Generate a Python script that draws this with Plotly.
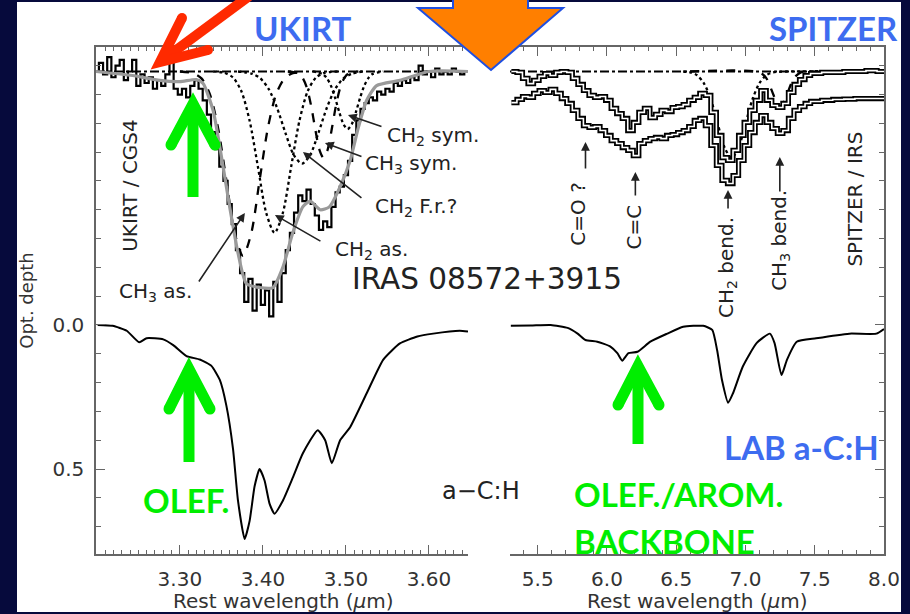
import plotly.graph_objects as go

W, H = 910, 614
OFFSET = -0.88          # vertical offset of the observed spectra on the optical-depth axis

# ---------------- laboratory a-C:H (lower curves) ----------------
lab_wl_l = [3.201, 3.219, 3.236, 3.251, 3.260, 3.280, 3.292, 3.308, 3.324, 3.338, 3.348,
            3.356, 3.364, 3.370, 3.378, 3.384, 3.390, 3.396, 3.402, 3.408, 3.414, 3.424,
            3.436, 3.448, 3.466, 3.475, 3.483, 3.493, 3.505, 3.525, 3.545, 3.565, 3.586,
            3.605, 3.637, 3.647]
lab_tau_l = [0.0, 0.003, 0.02, 0.06, 0.046, 0.05, 0.07, 0.108, 0.12, 0.142, 0.19,
             0.28, 0.43, 0.61, 0.743, 0.68, 0.56, 0.50, 0.54, 0.62, 0.655, 0.61,
             0.53, 0.446, 0.365, 0.40, 0.48, 0.40, 0.355, 0.237, 0.12, 0.064, 0.04,
             0.03, 0.02, 0.023]

lab_wl_r = [5.306, 5.45, 5.594, 5.716, 5.788, 5.845, 5.93, 6.025, 6.075, 6.11, 6.155,
            6.22, 6.313, 6.435, 6.55, 6.695, 6.76, 6.795, 6.83, 6.875, 6.91, 6.98,
            7.08, 7.176, 7.21, 7.26, 7.30, 7.37, 7.51, 7.75, 7.945, 8.0]
lab_tau_r = [0.003, 0.002, 0.0, 0.01, 0.03, 0.052, 0.058, 0.075, 0.098, 0.124, 0.098,
             0.093, 0.058, 0.03, 0.006, 0.003, 0.017, 0.087, 0.19, 0.27, 0.237, 0.145,
             0.063, 0.03, 0.063, 0.174, 0.12, 0.058, 0.046, 0.03, 0.03, 0.014]

# ---------------- UKIRT / CGS4 spectrum (sampled every 0.005 micron) ----------------
ukirt_start = 3.200
ukirt_step = 0.005
ukirt_tau = [0.00, -0.03, 0.01, -0.05, 0.02, -0.02, -0.04, 0.03, 0.00, -0.04,
             0.05, 0.01, 0.04, 0.02, 0.06, 0.03, 0.05, 0.01, -0.04, 0.06,
             0.08, 0.06, 0.09, 0.05, 0.03, 0.06, 0.10, 0.15, 0.21, 0.27,
             0.33, 0.38, 0.46, 0.53, 0.62, 0.70, 0.80, 0.72, 0.83, 0.74,
             0.81, 0.76, 0.85, 0.73, 0.80, 0.70, 0.62, 0.56, 0.49, 0.43,
             0.45, 0.41, 0.46, 0.50, 0.55, 0.52, 0.54, 0.47, 0.42, 0.40,
             0.36, 0.31, 0.22, 0.17, 0.13, 0.11, 0.09, 0.10, 0.07, 0.08,
             0.06, 0.07, 0.04, 0.05, 0.03, 0.04, 0.02, 0.03, -0.02, 0.01,
             0.00, 0.02, -0.01, 0.01, 0.00, 0.01, -0.01, 0.00, 0.01, 0.00]
ukirt_wl = [round(ukirt_start + i * ukirt_step, 3) for i in range(len(ukirt_tau))]

# total fit to the 3.4 micron band
fit_wl = [3.199, 3.243, 3.276, 3.300, 3.320, 3.328, 3.340, 3.348, 3.360, 3.370, 3.380,
          3.396, 3.412, 3.424, 3.436, 3.448, 3.457, 3.469, 3.480, 3.493, 3.505, 3.515,
          3.525, 3.537, 3.565, 3.600, 3.647]
fit_tau = [0.0, 0.014, 0.031, 0.035, 0.028, 0.042, 0.135, 0.26, 0.47, 0.63, 0.736,
           0.75, 0.75, 0.68, 0.56, 0.47, 0.45, 0.48, 0.47, 0.40, 0.31, 0.194,
           0.10, 0.049, 0.031, 0.0, 0.0]

# individual band components
ch3as_wl = [3.30, 3.316, 3.326, 3.336, 3.346, 3.356, 3.366, 3.376, 3.386, 3.396, 3.406, 3.416, 3.426, 3.436, 3.45]
ch3as_tau = [0.0, 0.006, 0.024, 0.078, 0.196, 0.378, 0.561, 0.64, 0.561, 0.378, 0.196, 0.078, 0.024, 0.006, 0.0]
ch2as_wl = [3.34, 3.354, 3.364, 3.374, 3.384, 3.394, 3.404, 3.414, 3.424, 3.434, 3.444, 3.454, 3.464, 3.474, 3.49]
ch2as_tau = [0.0, 0.005, 0.021, 0.068, 0.171, 0.331, 0.491, 0.56, 0.491, 0.331, 0.171, 0.068, 0.021, 0.005, 0.0]
ch2fr_wl = [3.37, 3.387, 3.397, 3.407, 3.417, 3.427, 3.437, 3.447, 3.457, 3.467, 3.477, 3.487, 3.497, 3.507, 3.52]
ch2fr_tau = [0.0, 0.008, 0.024, 0.061, 0.126, 0.212, 0.289, 0.32, 0.289, 0.212, 0.126, 0.061, 0.024, 0.008, 0.0]
ch3sym_wl = [3.43, 3.443, 3.448, 3.453, 3.458, 3.463, 3.468, 3.473, 3.478, 3.483, 3.488, 3.493, 3.498, 3.503, 3.515]
ch3sym_tau = [0.0, 0.007, 0.023, 0.057, 0.118, 0.199, 0.271, 0.30, 0.271, 0.199, 0.118, 0.057, 0.023, 0.007, 0.0]
ch2sym_wl = [3.46, 3.472, 3.477, 3.482, 3.487, 3.492, 3.497, 3.502, 3.507, 3.512, 3.517, 3.522, 3.527, 3.532, 3.545]
ch2sym_tau = [0.0, 0.009, 0.023, 0.05, 0.092, 0.141, 0.183, 0.20, 0.183, 0.141, 0.092, 0.05, 0.023, 0.009, 0.0]

# ---------------- SPITZER / IRS spectra ----------------
irs_wl = [5.31, 5.35, 5.39, 5.43, 5.47, 5.51, 5.55, 5.59, 5.63, 5.67, 5.71, 5.75, 5.79,
          5.83, 5.87, 5.91, 5.95, 5.99, 6.03, 6.07, 6.11, 6.15, 6.19, 6.23, 6.27, 6.31,
          6.35, 6.39, 6.43, 6.47, 6.51, 6.55, 6.59, 6.63, 6.67, 6.71, 6.75, 6.79, 6.83,
          6.87, 6.91, 6.95, 6.99, 7.03, 7.07, 7.11, 7.15, 7.19, 7.23, 7.27, 7.31, 7.35,
          7.39, 7.43, 7.47, 7.55, 7.63, 7.71, 7.79, 7.87, 7.95, 8.00]
irs_tau_a = [0.000, 0.003, 0.024, 0.042, 0.031, 0.017, 0.007, 0.014, 0.003, 0.000, 0.003, 0.024, 0.045,
             0.066, 0.083, 0.090, 0.087, 0.100, 0.128, 0.146, 0.163, 0.205, 0.177, 0.142, 0.128, 0.160,
             0.149, 0.135, 0.139, 0.125, 0.122, 0.115, 0.100, 0.090, 0.076, 0.083, 0.142, 0.222, 0.299,
             0.309, 0.274, 0.222, 0.177, 0.135, 0.100, 0.066, 0.100, 0.118, 0.125, 0.111, 0.073, 0.045,
             0.028, 0.014, 0.007, 0.003, 0.003, 0.000, 0.000, -0.003, 0.000, 0.000]
irs_tau_b = [0.108, 0.097, 0.087, 0.090, 0.076, 0.066, 0.073, 0.062, 0.076, 0.094, 0.111, 0.135, 0.163,
             0.188, 0.194, 0.191, 0.205, 0.222, 0.240, 0.250, 0.264, 0.274, 0.292, 0.250, 0.240, 0.233,
             0.229, 0.233, 0.222, 0.219, 0.212, 0.205, 0.191, 0.170, 0.163, 0.188, 0.257, 0.326, 0.378,
             0.389, 0.361, 0.309, 0.257, 0.212, 0.177, 0.153, 0.177, 0.198, 0.215, 0.205, 0.163, 0.135,
             0.122, 0.111, 0.104, 0.100, 0.097, 0.096, 0.094, 0.094, 0.094, 0.094]

ch2bend_wl = [6.55, 6.60, 6.65, 6.70, 6.75, 6.80, 6.85, 6.90, 6.95, 7.00, 7.05, 7.10, 7.15, 7.20, 7.30, 8.00]
ch2bend_tau = [0.0, 0.003, 0.013, 0.041, 0.097, 0.182, 0.265, 0.30, 0.265, 0.182, 0.097, 0.041, 0.013, 0.003, 0.0, 0.0]
ch3bend_wl = [6.60, 7.10, 7.15, 7.20, 7.225, 7.25, 7.275, 7.30, 7.35, 7.40, 7.50]
ch3bend_tau = [0.0, 0.003, 0.023, 0.079, 0.108, 0.12, 0.108, 0.079, 0.023, 0.003, 0.0]

# tick labels
left_ticks = [3.30, 3.40, 3.50, 3.60]
left_ticktext = ['3.30', '3.40', '3.50', '3.60']
right_ticks = [5.5, 6.0, 6.5, 7.0, 7.5, 8.0]
right_ticktext = ['5.5', '6.0', '6.5', '7.0', '7.5', '8.0']
y_ticks = [0.0, 0.5]
y_ticktext = ['0.0', '0.5']


def shifted(vals):
    return [OFFSET + v for v in vals]


PLOT_FONT = 'DejaVu Sans'
INK = '#222222'
AXIS = '#666666'

fig = go.Figure()


def line(x, y, xa, ya, color='black', width=2, dash='solid', shape='linear', smoothing=None):
    ln = dict(color=color, width=width, dash=dash, shape=shape)
    if smoothing is not None:
        ln['smoothing'] = smoothing
    fig.add_trace(go.Scatter(x=x, y=y, xaxis=xa, yaxis=ya, mode='lines', line=ln,
                             hoverinfo='skip', showlegend=False))


# ---- left panel (3.4 micron) ----
line([3.199, 3.647], [OFFSET, OFFSET], 'x', 'y', width=1.8, dash='dashdot')
for wl, tau, ds in [(ch3as_wl, ch3as_tau, 'dash'), (ch2as_wl, ch2as_tau, 'dot'),
                    (ch2fr_wl, ch2fr_tau, 'dot'), (ch3sym_wl, ch3sym_tau, 'dash'),
                    (ch2sym_wl, ch2sym_tau, 'dot')]:
    line(wl, shifted(tau), 'x', 'y', width=2.3, dash=ds, shape='spline', smoothing=0.8)
line(ukirt_wl, shifted(ukirt_tau), 'x', 'y', width=2.2, shape='hvh')
line(fit_wl, shifted(fit_tau), 'x', 'y', color='#9a9a9a', width=3.2, shape='spline', smoothing=0.6)
line(lab_wl_l, lab_tau_l, 'x', 'y', width=2, shape='spline', smoothing=0.5)

# ---- right panel (5-8 micron) ----
line([5.3, 8.0], [OFFSET, OFFSET], 'x2', 'y2', width=1.8, dash='dashdot')
line(ch2bend_wl, shifted(ch2bend_tau), 'x2', 'y2', width=2.3, dash='dot', shape='spline', smoothing=0.8)
line(ch3bend_wl, shifted(ch3bend_tau), 'x2', 'y2', width=2.3, dash='dash', shape='spline', smoothing=0.8)
for tau in (irs_tau_a, irs_tau_b):
    line(irs_wl, shifted(tau), 'x2', 'y2', width=5.2, shape='hv')
    line(irs_wl, shifted(tau), 'x2', 'y2', color='white', width=1.6, shape='hv')
line(lab_wl_r, lab_tau_r, 'x2', 'y2', width=2, shape='spline', smoothing=0.5)

# ---- axes ----
tickfont = dict(family=PLOT_FONT, size=20, color='#333333')
common = dict(showline=True, linecolor=AXIS, linewidth=1.5, ticks='inside', tickcolor=AXIS,
              tickwidth=1.3, ticklen=9, showgrid=False, zeroline=False, tickfont=tickfont,
              automargin=False)

fig.update_layout(
    xaxis=dict(common, domain=[96 / W, 468 / W], range=[3.199, 3.647], anchor='y',
               tickmode='array', tickvals=left_ticks, ticktext=left_ticktext, mirror='ticks',
               minor=dict(dtick=0.01, tick0=3.2, ticklen=4, ticks='inside', tickcolor=AXIS, tickwidth=1),
               ticklabelstandoff=6),
    xaxis2=dict(common, domain=[510 / W, 884 / W], range=[5.3, 8.0], anchor='y2',
                tickmode='array', tickvals=right_ticks, ticktext=right_ticktext, mirror='ticks',
                minor=dict(dtick=0.1, tick0=5.3, ticklen=4, ticks='inside', tickcolor=AXIS, tickwidth=1),
                ticklabelstandoff=6),
    yaxis=dict(common, domain=[1 - 554 / H, 1 - 47 / H], range=[0.795, -0.965], anchor='x',
               tickmode='array', tickvals=y_ticks, ticktext=y_ticktext,
               minor=dict(dtick=0.1, tick0=0, ticklen=5, ticks='inside', tickcolor=AXIS, tickwidth=1),
               ticklabelstandoff=6,
               title=dict(text='Opt. depth', font=dict(family=PLOT_FONT, size=18, color='#333333'),
                          standoff=14)),
    yaxis2=dict(common, domain=[1 - 554 / H, 1 - 47 / H], range=[0.795, -0.965], anchor='x2',
                side='right', showticklabels=False, tickmode='array', tickvals=y_ticks,
                minor=dict(dtick=0.1, tick0=0, ticklen=5, ticks='inside', tickcolor=AXIS, tickwidth=1)),
    width=W, height=H, margin=dict(l=0, r=0, t=0, b=0),
    paper_bgcolor='#060a3c', plot_bgcolor='rgba(0,0,0,0)',
)


def P(px, py):
    return px / W, 1 - py / H


# white slide panel
x0, y0 = P(17, 612)
x1, y1 = P(901, 2)
fig.add_shape(type='rect', xref='paper', yref='paper', x0=x0, y0=y0, x1=x1, y1=y1,
              fillcolor='white', line=dict(width=0), layer='below')

# x-axis titles under each panel
for cx in (283, 697):
    tx, ty = P(cx, 601)
    fig.add_annotation(text='Rest wavelength (<i>µ</i>m)', x=tx, y=ty, xref='paper', yref='paper',
                       showarrow=False, xanchor='center', yanchor='middle',
                       font=dict(family=PLOT_FONT, size=20, color='#333333'))


# ---- feature labels, left panel ----
def label(text, x, y, xa='x', ya='y', size=20, angle=0, xanchor='left'):
    fig.add_annotation(text=text, x=x, y=y, xref=xa, yref=ya, showarrow=False,
                       textangle=angle, xanchor=xanchor, yanchor='middle',
                       font=dict(family=PLOT_FONT, size=size, color=INK))


def pointer(tip, tail, xa='x', ya='y'):
    fig.add_annotation(text='', x=tip[0], y=tip[1], ax=tail[0], ay=tail[1], xref=xa, yref=ya,
                       axref=xa, ayref=ya, showarrow=True, arrowhead=2, arrowsize=1.1,
                       arrowwidth=1.6, arrowcolor=INK)


label('CH<sub>2</sub> sym.', 3.547, -0.656)
label('CH<sub>3</sub> sym.', 3.5205, -0.559)
label('CH<sub>2</sub> F.r.?', 3.5325, -0.41)
label('CH<sub>2</sub> as.', 3.4843, -0.26)
label('CH<sub>3</sub> as.', 3.224, -0.115)
pointer((3.5024, -0.729), (3.5446, -0.6875))
pointer((3.4747, -0.632), (3.5205, -0.583))
pointer((3.4482, -0.6007), (3.5205, -0.4375))
pointer((3.4145, -0.382), (3.4711, -0.288))
pointer((3.3783, -0.389), (3.3217, -0.146))
label('UKIRT / CGS4', 3.2398, -0.486, angle=-90, xanchor='center')
label('IRAS 08572+3915', 3.5048, -0.16, size=29.5)
label('a\u2212C:H', 3.6133, 0.576, size=24)

# ---- feature labels, right panel ----
label('C=O ?', 5.795, -0.385, 'x2', 'y2', angle=-90, xanchor='center')
label('C=C', 6.198, -0.34, 'x2', 'y2', angle=-90, xanchor='center')
label('CH<sub>2</sub> bend.', 6.867, -0.198, 'x2', 'y2', angle=-90, xanchor='center')
label('CH<sub>3</sub> bend.', 7.248, -0.295, 'x2', 'y2', angle=-90, xanchor='center')
label('SPITZER / IRS', 7.788, -0.4375, 'x2', 'y2', angle=-90, xanchor='center')
pointer((5.845, -0.635), (5.845, -0.538), 'x2', 'y2')
pointer((6.205, -0.531), (6.205, -0.444), 'x2', 'y2')
pointer((6.874, -0.469), (6.874, -0.399), 'x2', 'y2')
pointer((7.248, -0.583), (7.248, -0.458), 'x2', 'y2')

# ---- slide overlay: titles ----
BLUE = '#3D6CF0'
GREEN = '#00EE00'


def slide_text(text, px, py, color, xanchor='left', size=33):
    x, y = P(px, py)
    fig.add_annotation(text=text, x=x, y=y, xref='paper', yref='paper', showarrow=False,
                       xanchor=xanchor, yanchor='middle',
                       font=dict(family='Lato', size=size, color=color, weight=700))


slide_text('UKIRT', 303, 28, BLUE, xanchor='center')
slide_text('SPITZER', 767, 28, BLUE)
slide_text('LAB a-C:H', 722, 447, BLUE)
slide_text('OLEF.', 141, 500, GREEN)
slide_text('OLEF./AROM.', 572, 494, GREEN)
slide_text('BACKBONE', 572, 541, GREEN)


def seg(p, q, color, width):
    a, b = P(*p)
    c, d = P(*q)
    fig.add_shape(type='line', xref='paper', yref='paper', x0=a, y0=b, x1=c, y1=d,
                  line=dict(color=color, width=width), layer='above')


def dot(p, r, color):
    a, b = P(p[0] - r, p[1] + r)
    c, d = P(p[0] + r, p[1] - r)
    fig.add_shape(type='circle', xref='paper', yref='paper', x0=a, y0=b, x1=c, y1=d,
                  fillcolor=color, line=dict(width=0), layer='above')


def path_str(points, close=False):
    s = ''
    for i, (px, py) in enumerate(points):
        x, y = P(px, py)
        s += ('M' if i == 0 else 'L') + f'{x:.5f},{y:.5f} '
    return s + ('Z' if close else '')


# orange block arrow
fig.add_shape(type='path', xref='paper', yref='paper',
              path=path_str([(453, -6), (528, -6), (528, 8), (563, 8), (491, 70), (418, 8), (453, 8)], True),
              fillcolor='#FF7F00', line=dict(color='#1F4FE0', width=2), layer='above')

# red arrow
RED = '#FF2A00'
tip = (160, 62)
seg(tip, (252, -6), RED, 10)
fig.add_shape(type='path', xref='paper', yref='paper', path=path_str([(182, 18), tip, (208, 50)]),
              line=dict(color=RED, width=10), layer='above')
dot((182, 18), 5, RED)
dot((208, 50), 5, RED)


# green arrows
def green_arrow(tipx, tipy, bottom, wl, wr, wy):
    seg((tipx, tipy + 6), (tipx, bottom), GREEN, 11)
    fig.add_shape(type='path', xref='paper', yref='paper',
                  path=path_str([(wl, wy), (tipx, tipy), (wr, wy)]),
                  line=dict(color=GREEN, width=11), layer='above')
    dot((wl, wy), 5.5, GREEN)
    dot((wr, wy), 5.5, GREEN)


green_arrow(193, 104, 197, 171, 215, 145)
green_arrow(189, 369, 462, 169, 210, 409)
green_arrow(638, 366, 444, 618, 659, 405)

fig.write_html('out.html')
